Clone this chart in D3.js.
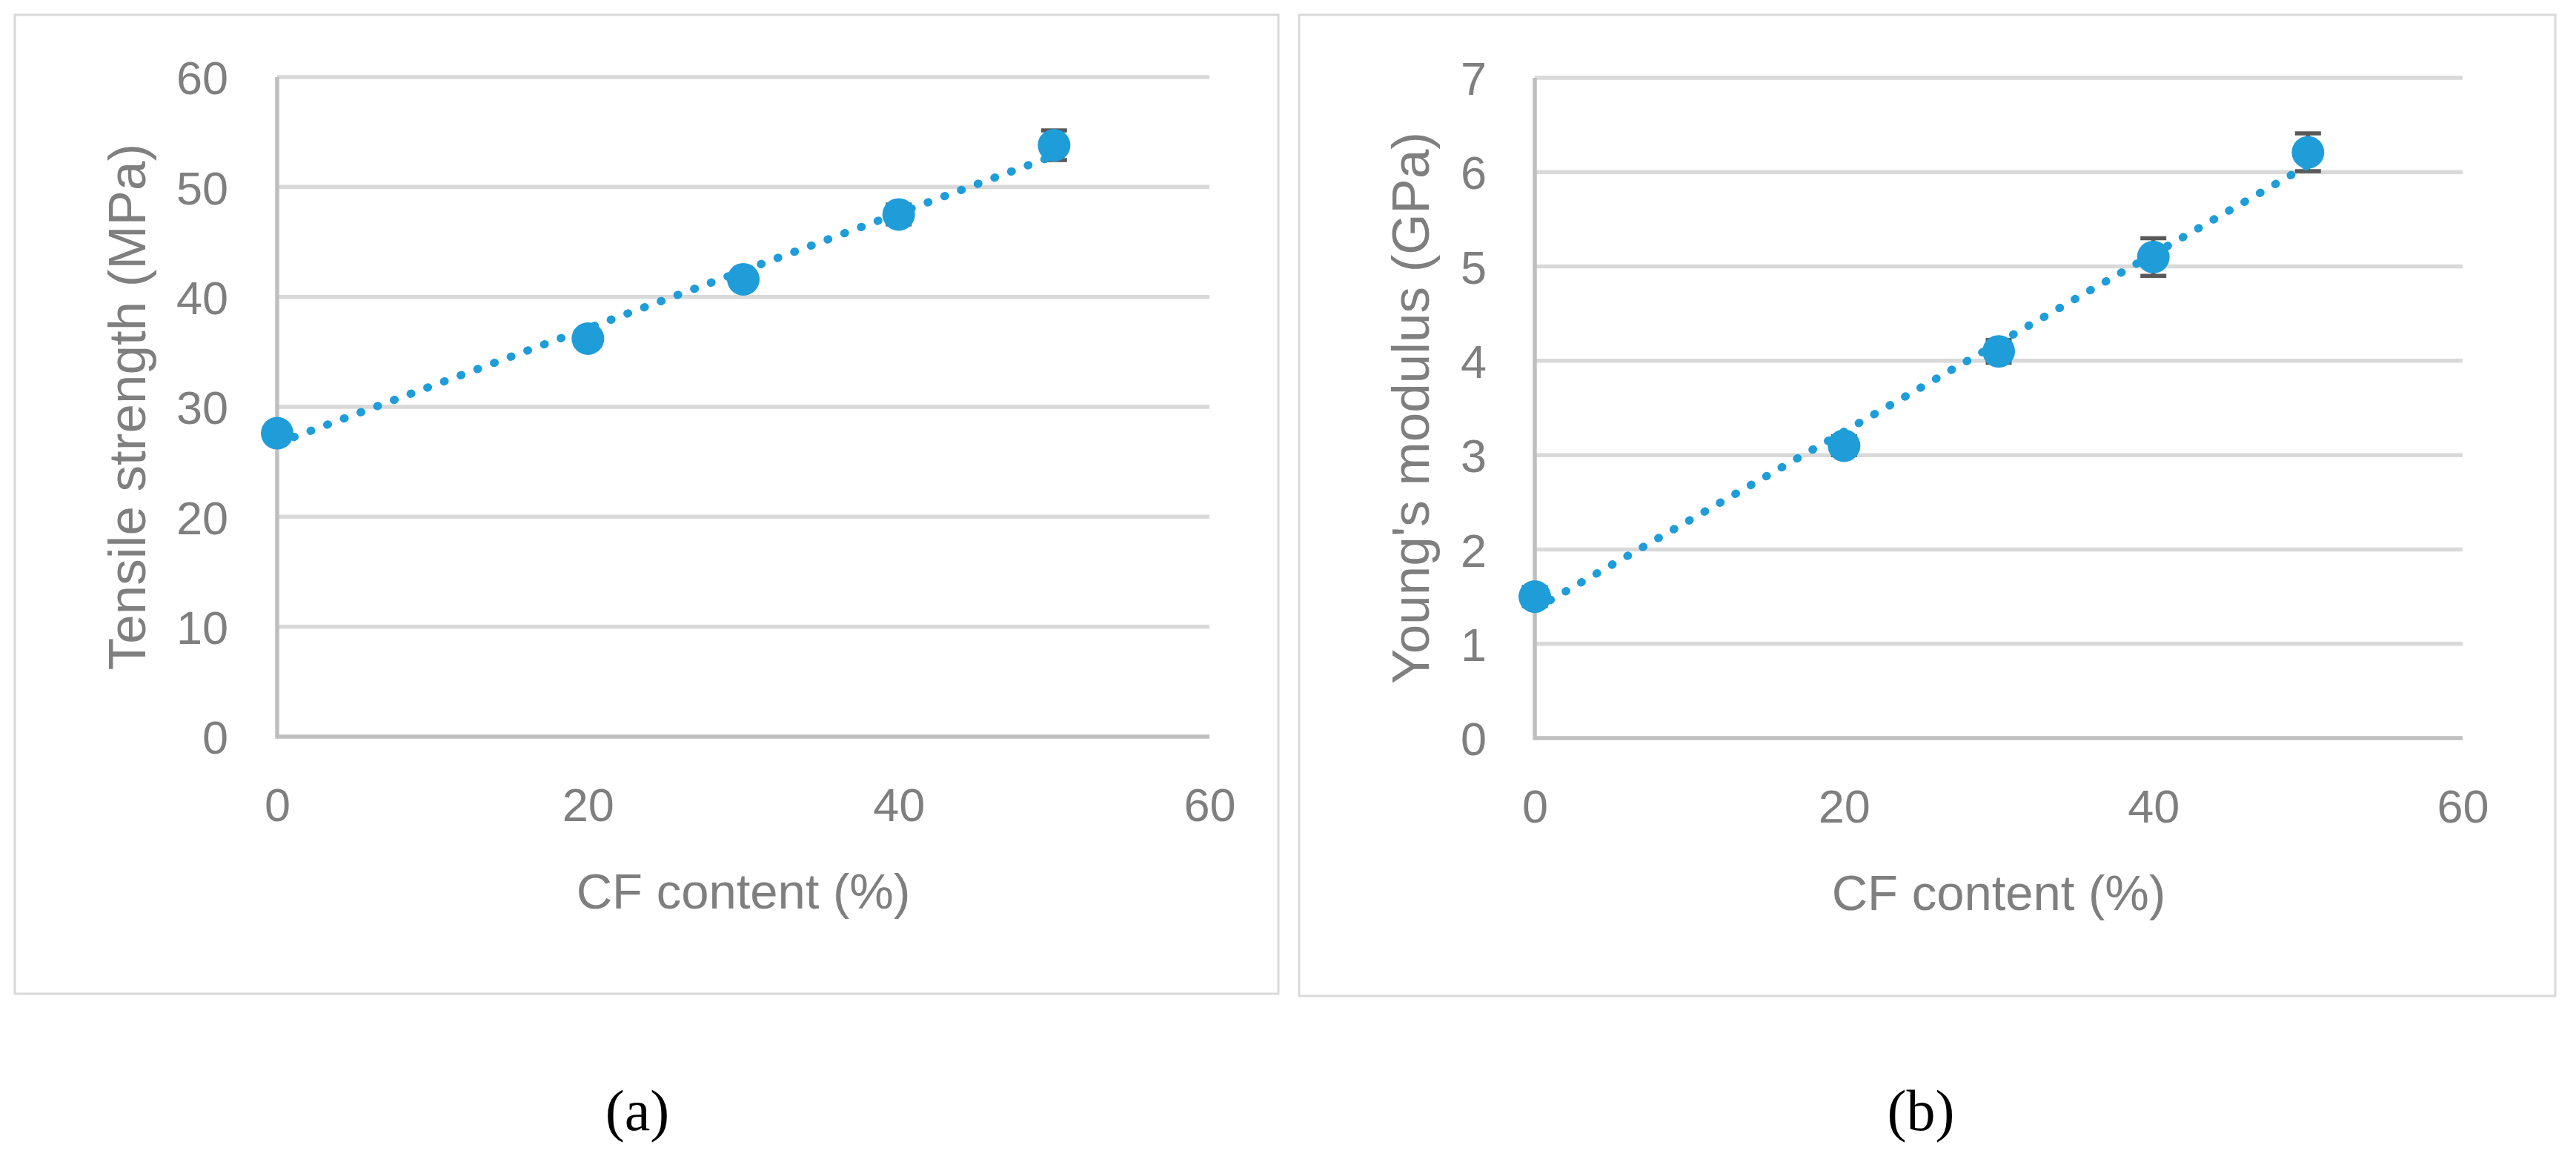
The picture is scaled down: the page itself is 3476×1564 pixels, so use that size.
<!DOCTYPE html>
<html>
<head>
<meta charset="utf-8">
<script src="https://cdn.jsdelivr.net/npm/d3@7"></script>
<style>
  html, body { margin: 0; padding: 0; background: #ffffff; }
  svg { display: block; }
</style>
</head>
<body>
<svg id="chart" width="3476" height="1564"></svg>
<script>
// ---------------- data ----------------
const cfContent = [0, 20, 30, 40, 50];
const tensileStrength = [27.6, 36.2, 41.6, 47.5, 53.8];
const tensileError = [0.4, 0.5, 0.5, 0.9, 1.35];
const youngsModulus = [1.5, 3.1, 4.1, 5.1, 6.21];
const youngsError = [0.1, 0.1, 0.12, 0.2, 0.2];
const xTickValues = [0, 20, 40, 60];
const yTicksTensile = [0, 10, 20, 30, 40, 50, 60];
const yTicksYoungs = [0, 1, 2, 3, 4, 5, 6, 7];
const xTitle = "CF content (%)";
const yTitleTensile = "Tensile strength (MPa)";
const yTitleYoungs = "Young's modulus (GPa)";
const panelLabels = ["(a)", "(b)"];

// ---------------- style ----------------
const BLUE = "#1f9dd9";
const GRID = "#d9d9d9";
const AXIS = "#bfbfbf";
const TEXT = "#7f7f7f";
const ERR = "#595959";
const SANS = "'Liberation Sans', Arial, sans-serif";
const SERIF = "'Liberation Serif', 'Times New Roman', serif";

const svg = d3.select("#chart");

function linearFit(xs, ys) {
  const n = xs.length;
  const mx = d3.mean(xs), my = d3.mean(ys);
  let sxy = 0, sxx = 0;
  for (let i = 0; i < n; i++) { sxy += (xs[i] - mx) * (ys[i] - my); sxx += (xs[i] - mx) ** 2; }
  const b = sxy / sxx;
  return { slope: b, intercept: my - b * mx };
}

function drawPanel(cfg) {
  const g = svg.append("g");
  // outer frame
  g.append("rect")
    .attr("x", cfg.frame[0]).attr("y", cfg.frame[1])
    .attr("width", cfg.frame[2] - cfg.frame[0]).attr("height", cfg.frame[3] - cfg.frame[1])
    .attr("fill", "#ffffff").attr("stroke", GRID).attr("stroke-width", 3);

  const x = d3.scaleLinear().domain([0, 60]).range([cfg.left, cfg.right]);
  const y = d3.scaleLinear().domain([0, d3.max(cfg.yTicks)]).range([cfg.bottom, cfg.top]);

  // gridlines
  g.append("g").selectAll("line").data(cfg.yTicks.filter(d => d !== 0)).join("line")
    .attr("x1", cfg.left).attr("x2", cfg.right)
    .attr("y1", d => y(d)).attr("y2", d => y(d))
    .attr("stroke", GRID).attr("stroke-width", 5.5);

  // axis lines
  g.append("line").attr("x1", cfg.left).attr("x2", cfg.right)
    .attr("y1", y(0)).attr("y2", y(0)).attr("stroke", AXIS).attr("stroke-width", 5.5);
  g.append("line").attr("x1", cfg.left).attr("x2", cfg.left)
    .attr("y1", y(d3.max(cfg.yTicks))).attr("y2", y(0) + 2.75).attr("stroke", AXIS).attr("stroke-width", 5.5);

  // y tick labels
  const yAxis = g.append("g").attr("transform", `translate(${cfg.left},0)`)
    .call(d3.axisLeft(y).tickValues(cfg.yTicks).tickSize(0).tickPadding(cfg.yPad).tickFormat(d3.format("d")));
  yAxis.select(".domain").remove();
  yAxis.selectAll("text").attr("fill", TEXT).attr("font-family", SANS).attr("font-size", 63).attr("dy", "0.36em");

  // x tick labels
  const xAxis = g.append("g").attr("transform", `translate(0,${cfg.bottom})`)
    .call(d3.axisBottom(x).tickValues(xTickValues).tickSize(0).tickFormat(d3.format("d")));
  xAxis.select(".domain").remove();
  xAxis.selectAll("text").attr("fill", TEXT).attr("font-family", SANS).attr("font-size", 63)
    .attr("y", cfg.xTickBase - cfg.bottom).attr("dy", 0);

  // axis titles
  g.append("text").attr("x", (cfg.left + cfg.right) / 2).attr("y", cfg.xTitleBase)
    .attr("text-anchor", "middle").attr("fill", TEXT).attr("font-family", SANS).attr("font-size", 67)
    .text(xTitle);
  g.append("text")
    .attr("transform", `translate(${cfg.yTitleBase},${(cfg.top + cfg.bottom) / 2}) rotate(-90)`)
    .attr("text-anchor", "middle").attr("fill", TEXT).attr("font-family", SANS).attr("font-size", 71)
    .text(cfg.yTitle);

  // error bars
  const eg = g.append("g");
  cfContent.forEach((cx, i) => {
    const v = cfg.values[i], e = cfg.errors[i];
    eg.append("line").attr("x1", x(cx)).attr("x2", x(cx)).attr("y1", y(v - e)).attr("y2", y(v + e))
      .attr("stroke", ERR).attr("stroke-width", 5.5);
    [v - e, v + e].forEach(t => {
      eg.append("line").attr("x1", x(cx) - 17.5).attr("x2", x(cx) + 17.5).attr("y1", y(t)).attr("y2", y(t))
        .attr("stroke", ERR).attr("stroke-width", 5.5);
    });
  });

  // markers
  g.append("g").selectAll("circle").data(cfContent).join("circle")
    .attr("cx", d => x(d)).attr("cy", (d, i) => y(cfg.values[i])).attr("r", 22).attr("fill", BLUE);

  // linear trendline (dotted)
  const fit = linearFit(cfContent, cfg.values);
  const ends = [d3.min(cfContent), d3.max(cfContent)];
  g.append("path")
    .attr("d", d3.line().x(d => x(d)).y(d => y(fit.intercept + fit.slope * d))(ends))
    .attr("fill", "none").attr("stroke", BLUE).attr("stroke-width", 11)
    .attr("stroke-linecap", "round").attr("stroke-dasharray", "1 23");

  // panel label
  svg.append("text").attr("x", cfg.labelX).attr("y", 1525).attr("text-anchor", "middle")
    .attr("fill", "#000000").attr("font-family", SERIF).attr("font-size", 78).text(cfg.label);
}

drawPanel({
  frame: [20, 20, 1725, 1341],
  left: 374, right: 1632, top: 104, bottom: 994,
  yTicks: yTicksTensile, values: tensileStrength, errors: tensileError,
  yPad: 66, xTickBase: 1108, xTitleBase: 1226, yTitleBase: 196,
  yTitle: yTitleTensile, label: panelLabels[0], labelX: 860
});

drawPanel({
  frame: [1753, 20, 3448, 1344],
  left: 2071, right: 3323, top: 105, bottom: 996,
  yTicks: yTicksYoungs, values: youngsModulus, errors: youngsError,
  yPad: 65, xTickBase: 1110, xTitleBase: 1228, yTitleBase: 1928,
  yTitle: yTitleYoungs, label: panelLabels[1], labelX: 2592
});
</script>
</body>
</html>
